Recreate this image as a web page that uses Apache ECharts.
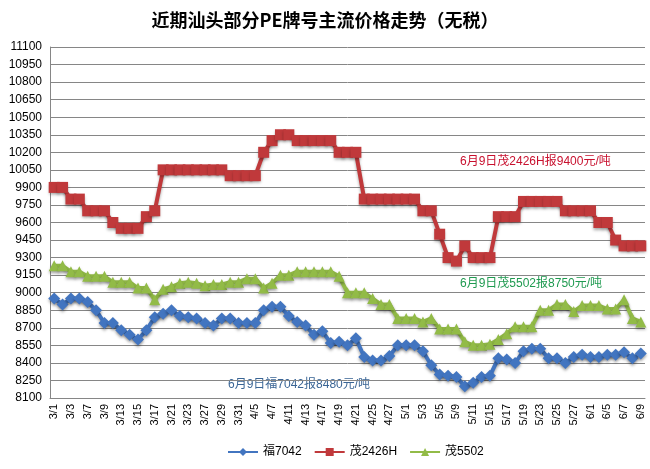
<!DOCTYPE html>
<html>
<head>
<meta charset="utf-8">
<title>近期汕头部分PE牌号主流价格走势</title>
<script src="https://cdn.jsdelivr.net/npm/echarts@6/dist/echarts.min.js"></script>
<style>
  html, body { margin: 0; padding: 0; background: #fff; }
  #mainChart { width: 650px; height: 469px; }
</style>
</head>
<body>
<div id="mainChart"></div>
<script>
// 日期（交易日）
var dates = [
  '3/1', '3/2', '3/3', '3/6', '3/7', '3/8', '3/9', '3/10', '3/13', '3/14',
  '3/15', '3/16', '3/17', '3/20', '3/21', '3/22', '3/23', '3/24', '3/27', '3/28',
  '3/29', '3/30', '3/31', '4/1', '4/5', '4/6', '4/7', '4/10', '4/11', '4/12',
  '4/13', '4/14', '4/17', '4/18', '4/19', '4/20', '4/21', '4/24', '4/25', '4/26',
  '4/27', '4/28', '5/1', '5/2', '5/3', '5/4', '5/5', '5/8', '5/9', '5/10',
  '5/11', '5/12', '5/15', '5/16', '5/17', '5/18', '5/19', '5/22', '5/23', '5/24',
  '5/25', '5/26', '5/27', '5/31', '6/1', '6/2', '6/5', '6/6', '6/7', '6/8', '6/9'
];

var fu7042 = [
  8950, 8900, 8950, 8950, 8920, 8850, 8740, 8740, 8680, 8640,
  8600, 8680, 8790, 8820, 8850, 8800, 8790, 8780, 8740, 8720,
  8780, 8780, 8740, 8740, 8740, 8850, 8880, 8880, 8800, 8750,
  8720, 8640, 8670, 8570, 8580, 8550, 8610, 8450, 8420, 8420,
  8460, 8550, 8550, 8550, 8500, 8380, 8300, 8290, 8280, 8200,
  8230, 8280, 8290, 8440, 8430, 8400, 8500, 8520, 8520, 8440,
  8440, 8400, 8450, 8470, 8450, 8450, 8470, 8470, 8490, 8440, 8480
];

var mao2426H = [
  9900, 9900, 9800, 9800, 9700, 9700, 9700, 9600, 9550, 9550,
  9550, 9650, 9700, 10050, 10050, 10050, 10050, 10050, 10050, 10050,
  10050, 10000, 10000, 10000, 10000, 10200, 10300, 10350, 10350, 10300,
  10300, 10300, 10300, 10300, 10200, 10200, 10200, 9800, 9800, 9800,
  9800, 9800, 9800, 9800, 9700, 9700, 9500, 9300, 9270, 9400,
  9300, 9300, 9300, 9650, 9650, 9650, 9780, 9780, 9780, 9780,
  9780, 9700, 9700, 9700, 9700, 9600, 9600, 9450, 9400, 9400, 9400
];

var mao5502 = [
  9230, 9230, 9180, 9180, 9140, 9140, 9140, 9090, 9090, 9090,
  9040, 9040, 8940, 9030, 9050, 9080, 9090, 9080, 9060, 9070,
  9070, 9090, 9090, 9120, 9120, 9040, 9080, 9150, 9150, 9180,
  9180, 9180, 9180, 9180, 9140, 9000, 9000, 9000, 8950, 8900,
  8900, 8780, 8780, 8780, 8750, 8780, 8690, 8690, 8690, 8580,
  8550, 8550, 8560, 8600, 8650, 8710, 8710, 8710, 8850, 8850,
  8900, 8900, 8840, 8890, 8890, 8890, 8860, 8860, 8940, 8780, 8750
];

// 纵轴刻度
var yMin = 8100;
var yMax = 11100;
var yStep = 150;

var notes = [
  { text: '6月9日茂2426H报9400元/吨', color: '#c8102e', left: 460, top: 156 },
  { text: '6月9日茂5502报8750元/吨', color: '#1f9a50', left: 460, top: 278 },
  { text: '6月9日福7042报8480元/吨', color: '#3a6595', left: 228, top: 379 }
];

function makeSeries(name, data, color, symbol, size) {
  return {
    name: name,
    type: 'line',
    data: data,
    symbol: symbol,
    symbolSize: size,
    showAllSymbol: true,
    lineStyle: {
      width: 4,
      color: color,
      shadowColor: 'rgba(0,0,0,0.35)',
      shadowBlur: 3,
      shadowOffsetY: 2
    },
    itemStyle: {
      color: color,
      shadowColor: 'rgba(0,0,0,0.35)',
      shadowBlur: 3,
      shadowOffsetY: 2
    },
    emphasis: { disabled: true }
  };
}

function init() {
  var chartDom = document.getElementById('mainChart');
  var myChart = echarts.init(chartDom);
  var font = '"Liberation Sans", "Noto Sans CJK SC", sans-serif';

  var option = {
    animation: false,
    backgroundColor: '#fff',
    title: {
      text: '近期汕头部分PE牌号主流价格走势（无税）',
      left: 'center',
      top: 6,
      textStyle: {
        fontSize: 18,
        fontWeight: 'bold',
        color: '#000',
        fontFamily: '"Noto Sans CJK SC", sans-serif'
      }
    },
    grid: { left: 50, right: 5, top: 47, bottom: 71 },
    legend: {
      bottom: 6,
      left: 222,
      itemWidth: 30,
      itemHeight: 10,
      itemGap: 12,
      textStyle: { fontSize: 12, color: '#000', fontFamily: font },
      data: ['福7042', '茂2426H', '茂5502']
    },
    xAxis: {
      type: 'category',
      data: dates,
      boundaryGap: true,
      axisLine: { lineStyle: { color: '#868686' } },
      axisTick: { show: false },
      axisLabel: {
        interval: 1,
        rotate: 90,
        fontSize: 11,
        color: '#000',
        fontFamily: font,
        margin: 6
      }
    },
    yAxis: {
      type: 'value',
      min: yMin,
      max: yMax,
      interval: yStep,
      axisLine: { show: true, lineStyle: { color: '#868686' } },
      axisTick: { show: false },
      axisLabel: {
        fontSize: 12,
        color: '#000',
        fontFamily: font,
        margin: 8,
        formatter: function(v) { return String(v); }
      },
      splitLine: { lineStyle: { color: '#868686', width: 1 } }
    },
    series: [
      makeSeries('福7042', fu7042, '#4275c0', 'diamond', 12),
      makeSeries('茂2426H', mao2426H, '#c0393b', 'rect', 11),
      makeSeries('茂5502', mao5502, '#92bb47', 'triangle', 11)
    ],
    graphic: notes.map(function(n) {
      return {
        type: 'text',
        left: n.left,
        top: n.top,
        style: {
          text: n.text,
          fill: n.color,
          fontSize: 12,
          fontFamily: font
        }
      };
    })
  };
  myChart.setOption(option);
}
init();
// 重新渲染
window.onresize = function() {
  var old = echarts.getInstanceByDom(document.getElementById('mainChart'));
  if (!!old) {
    old.dispose();
  }
  init();
};
</script>
</body>
</html>
